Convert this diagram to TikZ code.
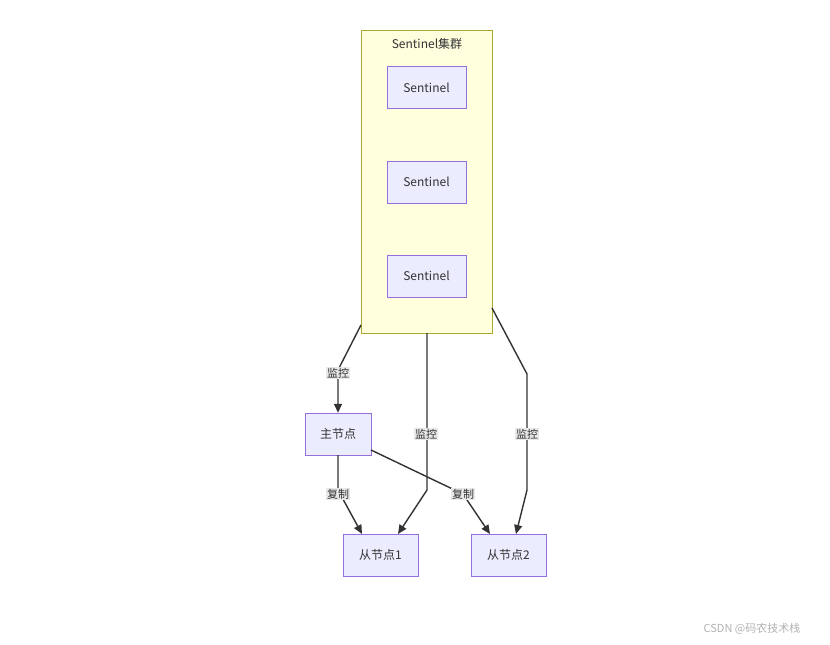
\documentclass[tikz,border=0pt]{standalone}
\usepackage{fontspec}
\setmainfont{Noto Sans CJK SC}
\usetikzlibrary{arrows.meta}
\definecolor{nfill}{HTML}{ECECFF}
\definecolor{nline}{HTML}{9370DB}
\definecolor{cfill}{HTML}{FFFFDE}
\definecolor{cline}{HTML}{AAAA33}
\definecolor{txt}{HTML}{333333}
\definecolor{lbl}{HTML}{E8E8E8}
\begin{document}
\begin{tikzpicture}[x=1pt,y=-1pt,
  box/.style={draw=nline,fill=nfill,text=txt,minimum height=42pt,inner sep=0pt,font=\fontsize{12}{14}\selectfont},
  edge/.style={draw=txt,line width=1.4pt,-{Triangle[length=9pt,width=8pt]}},
  lab/.style={fill=lbl,text=txt,inner sep=1pt,font=\fontsize{11}{13}\selectfont}]
\useasboundingbox[fill=white] (0,0) rectangle (830,645);
\node[draw=cline,fill=cfill,minimum width=131pt,minimum height=303pt,inner sep=0pt] (cl) at (426.5,181.5) {};
\node[text=txt,font=\fontsize{12}{14}\selectfont] (ct) at (427,44) {Sentinel集群};
\node[box,minimum width=79pt] (s1) at (426.5,87.5) {Sentinel};
\node[box,minimum width=79pt] (s2) at (426.5,182) {Sentinel};
\node[box,minimum width=79pt] (s3) at (426.5,276) {Sentinel};
\node[box,minimum width=66pt] (m) at (338,434) {主节点};
\node[box,minimum width=75pt] (r1) at (380.5,555) {从节点1};
\node[box,minimum width=75pt] (r2) at (508.5,555) {从节点2};
\coordinate (a1) at (361,325);
\coordinate (a2) at (427,333);
\coordinate (a3) at (492,308);
\draw[edge] (a1) -- (338,370) -- (m.north);
\draw[edge] (a2) -- (427,490) -- (398,534);
\draw[edge] (a3) -- (527,374) -- (527,490) -- (516,534);
\draw[edge] (m.south) -- (338,490) -- (362,534);
\draw[edge] (371,450) -- (463,494) -- (490,534);
\node[lab] (l1) at (338,373) {监控};
\node[lab] (l2) at (426,434) {监控};
\node[lab] (l3) at (527,434) {监控};
\node[lab] (l4) at (338,494) {复制};
\node[lab] (l5) at (463,494) {复制};
\node[text=gray!60,font=\fontsize{11}{13}\selectfont] (wm) at (752,629) {CSDN @码农技术栈};
\end{tikzpicture}
\end{document}
